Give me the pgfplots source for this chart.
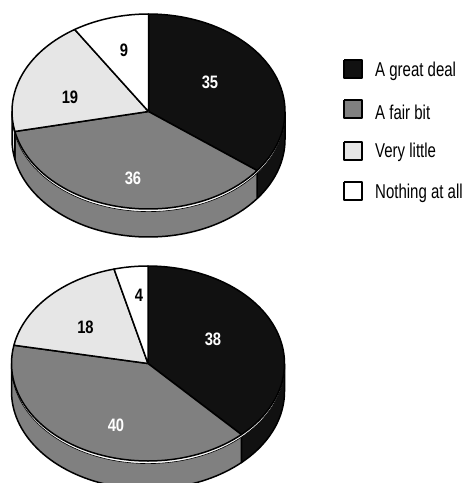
\documentclass[border=0pt]{standalone}
\usepackage{pgfplots}
\pgfplotsset{compat=1.18}
\usepackage{fontspec}
\setmainfont[FakeStretch=0.82]{Liberation Sans}
\newfontfamily\legendfont[FakeStretch=0.75]{Liberation Sans}
\definecolor{deal}{HTML}{111111}
\definecolor{fair}{HTML}{808080}
\definecolor{little}{HTML}{E6E6E6}

% Append points of an elliptical arc: cx, cy, rx, ry, from, to (degrees clockwise from the top)
\newcommand{\addarc}[6]{%
  \foreach \k in {0,...,60}{%
    \pgfmathsetmacro\ang{#5+(#6-(#5))*\k/60}%
    \pgfmathsetmacro\px{#1+#3*sin(\ang)}%
    \pgfmathsetmacro\py{#2-#4*cos(\ang)}%
    \xdef\pts{\pts (\px,\py)}%
  }}
\newcommand{\drawpts}[1]{%
  \edef\cmd{\noexpand\addplot[fill=#1,draw=black,line width=1.5pt,line join=round] coordinates {\pts};}\cmd}
% Top face wedge: cx, cy, from, to, colour
\newcommand{\wedgeface}[5]{%
  \gdef\pts{(#1,#2)}\addarc{#1}{#2}{\pierx}{\piery}{#3}{#4}\xdef\pts{\pts (#1,#2)}\drawpts{#5}}
% Side wall section: cx, cy, from, to, colour
\newcommand{\wall}[5]{%
  \gdef\pts{}\addarc{#1}{#2}{\pierx}{\piery}{#3}{#4}%
  \pgfmathsetmacro\low{#2+\depth}\addarc{#1}{\low}{\pierx}{\piery}{#4}{#3}%
  \pgfmathsetmacro\sx{#1+\pierx*sin(#3)}\pgfmathsetmacro\sy{#2-\piery*cos(#3)}%
  \xdef\pts{\pts (\sx,\sy)}\drawpts{#5}}
% Complete 3-D pie: cx, cy and the four shares
\newcommand{\pie}[6]{%
  \pgfmathsetmacro\tot{#3+#4+#5+#6}%
  \pgfmathsetmacro\aA{#3/\tot*360}%
  \pgfmathsetmacro\aB{(#3+#4)/\tot*360}%
  \pgfmathsetmacro\aC{(#3+#4+#5)/\tot*360}%
  \pgfmathsetmacro\wallend{min(\aB,270)}%
  \wall{#1}{#2}{90}{\aA}{deal}%
  \wall{#1}{#2}{\aA}{\wallend}{fair}%
  \pgfmathparse{\aB<270 ? 1 : 0}%
  \ifnum\pgfmathresult=1 \wall{#1}{#2}{\aB}{270}{little}\fi
  % thin lighter rim just below the top face
  \pgfmathsetmacro\rimy{#2+2.6}%
  \gdef\pts{}\addarc{#1}{\rimy}{\pierx}{\piery}{90}{270}%
  \edef\cmd{\noexpand\addplot[fill=white,draw=black,line width=0.6pt] coordinates {\pts};}\cmd
  \wedgeface{#1}{#2}{0}{\aA}{deal}%
  \wedgeface{#1}{#2}{\aA}{\aB}{fair}%
  \wedgeface{#1}{#2}{\aB}{\aC}{little}%
  \wedgeface{#1}{#2}{\aC}{360}{white}%
}
\def\pierx{136.5}\def\piery{97.5}\def\depth{28}
\newcommand{\val}[3]{\node[font=\bfseries\fontsize{18}{18}\selectfont,text=#3,inner sep=0pt] at (axis cs:#1) {#2};}
\newcommand{\leg}[5]{% top, bottom, colour, text, text height
  \addplot[fill=#3,draw=black,line width=1.8pt,line join=round] coordinates {(344,#1) (362,#1) (362,#2) (344,#2) (344,#1)};
  \node[anchor=west,font=\legendfont\fontsize{20}{20}\selectfont,inner sep=0pt] at (axis cs:375,#5) {#4};}

\begin{document}
\begin{tikzpicture}
\useasboundingbox (0,0) rectangle (467pt,483pt);
\begin{axis}[
  scale only axis, width=467pt, height=483pt,
  xmin=0, xmax=467, ymin=0, ymax=483, y dir=reverse,
  axis lines=none, no markers,
]
\pie{148.5}{111.5}{35}{36}{19}{9}
\pie{148}{363.5}{38}{40}{18}{4}

\val{210,82}{35}{white}
\val{133,178}{36}{white}
\val{70,97}{19}{black}
\val{124,50}{9}{black}
\val{213,339}{38}{white}
\val{116,425}{40}{white}
\val{85.5,327}{18}{black}
\val{139,295}{4}{black}

\leg{60}{78}{deal}{A great deal}{71}
\leg{100}{118}{fair}{A fair bit}{112}
\leg{142}{160}{little}{Very little}{152}
\leg{182}{200}{white}{Nothing at all}{193}
\end{axis}
\end{tikzpicture}
\end{document}
